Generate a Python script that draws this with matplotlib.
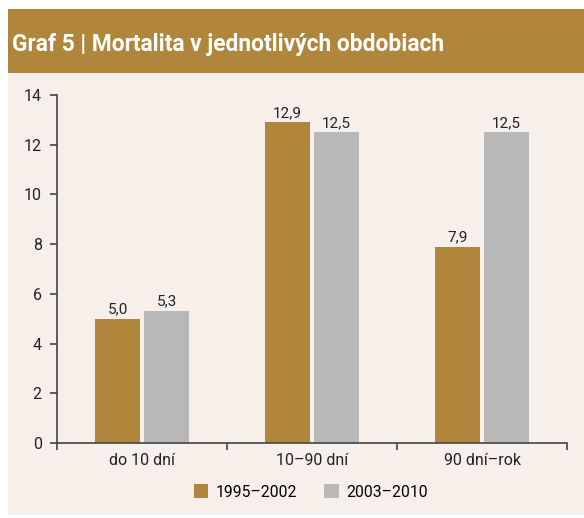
import numpy as np
import matplotlib.pyplot as plt
from matplotlib.patches import Rectangle

plt.rcParams['font.family'] = ['Roboto', 'DejaVu Sans']

categories = ['do 10 dní', '10–90 dní', '90 dní–rok']
series_names = ['1995–2002', '2003–2010']
values_1995 = [5.0, 12.9, 7.9]
values_2003 = [5.3, 12.5, 12.5]
title = 'Graf 5 | Mortalita v jednotlivých obdobiach'

brown = '#B0863C'
gray = '#B8B8B8'
panel = '#F7F0EA'

fig = plt.figure(figsize=(5.84, 5.18), dpi=100)
fig.patch.set_facecolor('white')

# beige panel and brown header band
fig.patches.append(Rectangle((8 / 584, 0.005), 1, 1 - 9 / 518 - 0.005, transform=fig.transFigure,
                             facecolor=panel, edgecolor='none', zorder=-2))
fig.patches.append(Rectangle((8 / 584, 1 - 73 / 518), 1, 64 / 518, transform=fig.transFigure,
                             facecolor=brown, edgecolor='none', zorder=-1))
fig.text(12 / 584, 1 - 44 / 518, title, color='white', fontsize=16.4, fontweight='bold',
         va='center', ha='left')

ax = fig.add_axes([57 / 584, 1 - 443 / 518, 510 / 584, 348 / 518])
ax.set_facecolor('none')

x = np.arange(len(categories))
w = 0.265
off = 0.144
b1 = ax.bar(x - off, values_1995, w, color=brown, label=series_names[0])
b2 = ax.bar(x + off, values_2003, w, color=gray, label=series_names[1])

# value labels with decimal comma
for bars, vals in [(b1, values_1995), (b2, values_2003)]:
    for rect, v in zip(bars, vals):
        ax.text(rect.get_x() + rect.get_width() / 2, v + 0.1, f'{v:.1f}'.replace('.', ','),
                ha='center', va='bottom', fontsize=11, color='#222222')

ax.set_xlim(-0.5, 2.5)
ax.set_ylim(0, 14)
ax.set_yticks(range(0, 15, 2))
ax.set_xticks([-0.5, 0.5, 1.5, 2.5], minor=False)
ax.set_xticklabels([])
ax.set_xticks(x, minor=True)
ax.set_xticklabels(categories, minor=True)
ax.tick_params(axis='x', which='minor', length=0, pad=7, labelsize=11.5, labelcolor='#222222')
ax.tick_params(axis='x', which='major', length=5, width=1.2, color='#444444')
ax.tick_params(axis='y', length=5, width=1.2, color='#444444', labelsize=11.5,
               labelcolor='#222222', pad=6)

for s in ['top', 'right']:
    ax.spines[s].set_visible(False)
for s in ['left', 'bottom']:
    ax.spines[s].set_color('#444444')
    ax.spines[s].set_linewidth(1.2)

fig.legend(handles=[b1, b2], labels=series_names, loc='center', bbox_to_anchor=(311 / 584, 1 - 492 / 518),
           ncol=2, frameon=False, fontsize=11.3, handlelength=0.92, handleheight=0.92,
           columnspacing=1.7, handletextpad=0.5)

fig.savefig('out.png', dpi=100, facecolor=fig.get_facecolor())
